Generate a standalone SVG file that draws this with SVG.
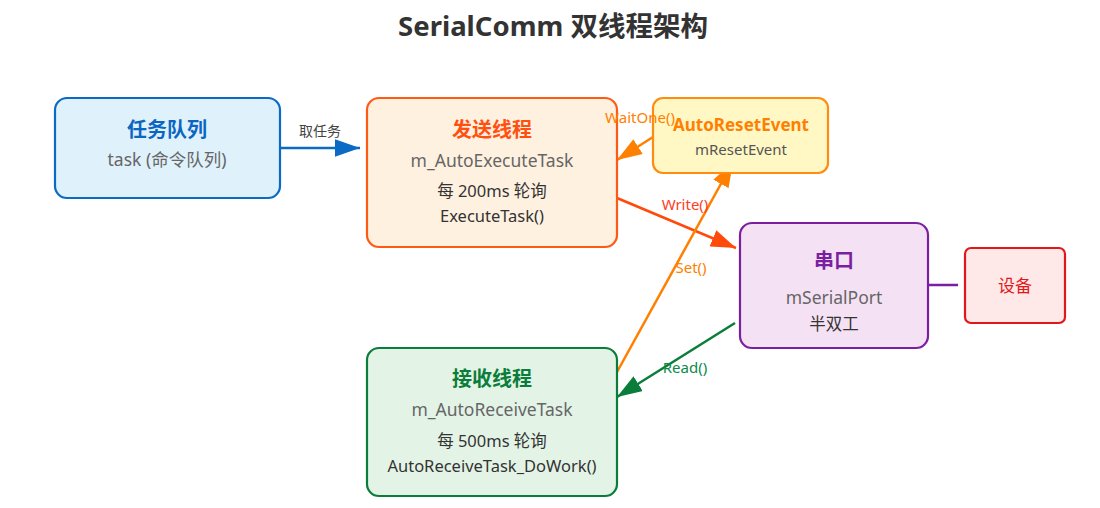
<svg xmlns="http://www.w3.org/2000/svg" width="1100" height="508" viewBox="0 0 1100 508">
<style>
text{font-family:"Noto Sans","Noto Sans CJK SC",sans-serif;text-anchor:middle}
.title{font-size:27.5px;font-weight:bold;fill:#333}
.h{font-size:20px;font-weight:bold}
.sub{font-size:17.5px;fill:#666}
.body{font-size:16.5px;fill:#333}
.lbl{font-size:15px}
.box{stroke-width:2.2}
.conn{stroke-width:2.5;fill:none}
</style>
<defs>
<marker id="mBlue" viewBox="0 0 10 7" refX="10" refY="3.5" markerWidth="10" markerHeight="7" orient="auto"><path d="M0,0L10,3.5L0,7z" fill="#0b6bc4"/></marker>
<marker id="mOrange" viewBox="0 0 10 7" refX="10" refY="3.5" markerWidth="10" markerHeight="7" orient="auto"><path d="M0,0L10,3.5L0,7z" fill="#ff7f00"/></marker>
<marker id="mRed" viewBox="0 0 10 7" refX="10" refY="3.5" markerWidth="10" markerHeight="7" orient="auto"><path d="M0,0L10,3.5L0,7z" fill="#ff4a0a"/></marker>
<marker id="mGreen" viewBox="0 0 10 7" refX="10" refY="3.5" markerWidth="10" markerHeight="7" orient="auto"><path d="M0,0L10,3.5L0,7z" fill="#0a7d3a"/></marker>
</defs>
<rect width="1100" height="508" fill="#fff"/>
<text class="title" x="553" y="36">SerialComm 双线程架构</text>

<g id="connectors">
<line class="conn" x1="280" y1="148" x2="360" y2="148" stroke="#0b6bc4" marker-end="url(#mBlue)"/>
<line class="conn" x1="653" y1="137" x2="617" y2="160" stroke="#ff7f00" marker-end="url(#mOrange)"/>
<line class="conn" x1="617" y1="198" x2="736" y2="248" stroke="#ff4a0a" marker-end="url(#mRed)"/>
<line class="conn" x1="617" y1="372" x2="733" y2="162" stroke="#ff7f00" marker-end="url(#mOrange)"/>
<line class="conn" x1="735" y1="323" x2="617" y2="397" stroke="#0a7d3a" marker-end="url(#mGreen)"/>
<line class="conn" x1="928" y1="285" x2="958" y2="285" stroke="#7b1fa2"/>
</g>

<g id="queue">
<rect class="box" x="55" y="98" width="225" height="100" rx="12" fill="#dff1fb" stroke="#0b6bc4"/>
<text class="h" x="167" y="137" fill="#0a66c2">任务队列</text>
<text class="sub" x="167" y="166">task (命令队列)</text>
</g>

<g id="sendThread">
<rect class="box" x="367" y="98" width="250" height="149" rx="12" fill="#fff1e0" stroke="#ff5a14"/>
<text class="h" x="492" y="137" fill="#ff5010">发送线程</text>
<text class="sub" x="492" y="167">m_AutoExecuteTask</text>
<text class="body" x="492" y="197">每 200ms 轮询</text>
<text class="body" x="492" y="222">ExecuteTask()</text>
</g>

<g id="resetEvent">
<rect class="box" x="653" y="98" width="175" height="75" rx="10" fill="#fff8c4" stroke="#ff8c10"/>
<text x="741" y="131" fill="#ff7f00" font-size="17" font-weight="bold">AutoResetEvent</text>
<text x="741" y="155" fill="#555" font-size="15">mResetEvent</text>
</g>

<g id="serialPort">
<rect class="box" x="740" y="223" width="188" height="125" rx="12" fill="#f5e1f4" stroke="#7b1fa2"/>
<text class="h" x="834" y="268" fill="#7b1fa2">串口</text>
<text class="sub" x="834" y="304">mSerialPort</text>
<text class="body" x="834" y="330">半双工</text>
</g>

<g id="device">
<rect class="box" x="965" y="248" width="100" height="75" rx="6" fill="#ffe8e8" stroke="#e01818"/>
<text x="1015" y="292" fill="#e01818" font-size="17">设备</text>
</g>

<g id="recvThread">
<rect class="box" x="367" y="348" width="250" height="148" rx="12" fill="#e3f4e6" stroke="#0a7d3a"/>
<text class="h" x="492" y="386" fill="#0a7d3a">接收线程</text>
<text class="sub" x="492" y="416">m_AutoReceiveTask</text>
<text class="body" x="492" y="447">每 500ms 轮询</text>
<text class="body" x="492" y="472">AutoReceiveTask_DoWork()</text>
</g>

<g id="connector-labels">
<text x="320" y="136" fill="#444" font-size="14">取任务</text>
<text class="lbl" x="640" y="123" fill="#ff8000">WaitOne()</text>
<text class="lbl" x="685" y="210" fill="#ff3d1f">Write()</text>
<text class="lbl" x="691" y="273" fill="#ff8000">Set()</text>
<text class="lbl" x="685" y="373" fill="#0a8a4a">Read()</text>
</g>
</svg>
